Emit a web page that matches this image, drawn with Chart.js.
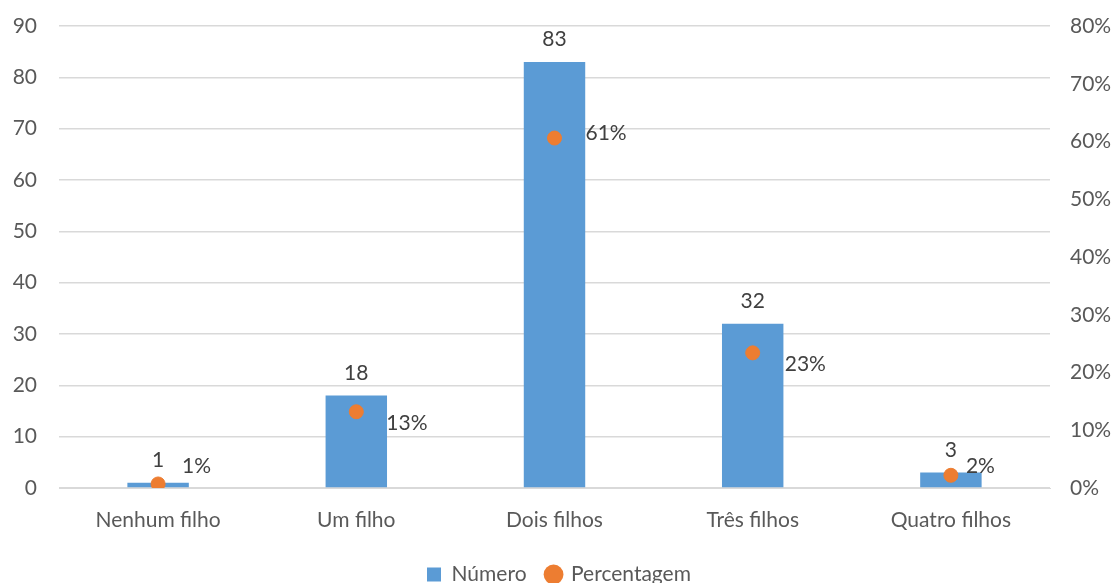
<!DOCTYPE html>
<html>
<head>
<meta charset="utf-8">
<script src="https://cdn.jsdelivr.net/npm/chart.js@4/dist/chart.umd.min.js"></script>
<style>
  html, body { margin: 0; padding: 0; background: #ffffff; }
  #wrap { width: 1118px; height: 583px; position: relative; }
</style>
</head>
<body>
<div id="wrap"><canvas id="chart"></canvas></div>
<script>
// Data
const categories = ['Nenhum filho', 'Um filho', 'Dois filhos', 'Três filhos', 'Quatro filhos'];
const numero = [1, 18, 83, 32, 3];
const percentagem = [0.7, 13.2, 60.6, 23.4, 2.2];
const percentLabels = ['1%', '13%', '61%', '23%', '2%'];

const colors = {
    bar: '#5B9BD5',
    dot: '#ED7D31',
    grid: '#D9D9D9',
    tick: '#595959',
    label: '#404040'
};

const fontFamily = 'Lato, "Open Sans", sans-serif';
const fontSize = 21;

// label nudges for the percentage labels (Excel moved a few to avoid overlap)
const pctNudge = [[24, -18], [30, 11], [31, -5], [32, 11], [15, -9]];

const dataLabels = {
    id: 'dataLabels',
    afterDatasetsDraw(chart) {
        const ctx = chart.ctx;
        ctx.save();
        ctx.font = fontSize + 'px ' + fontFamily;
        ctx.fillStyle = colors.label;

        const bars = chart.getDatasetMeta(0).data;
        ctx.textAlign = 'center';
        ctx.textBaseline = 'bottom';
        bars.forEach((bar, i) => {
            ctx.fillText(String(numero[i]), bar.x, bar.y - 12);
        });

        const dots = chart.getDatasetMeta(1).data;
        ctx.textAlign = 'left';
        ctx.textBaseline = 'middle';
        dots.forEach((pt, i) => {
            const n = pctNudge[i];
            ctx.fillText(percentLabels[i], pt.x + n[0], pt.y + n[1]);
        });
        ctx.restore();
    }
};

Chart.defaults.font.family = fontFamily;
Chart.defaults.font.size = fontSize;
Chart.defaults.color = colors.tick;

new Chart(document.getElementById('chart'), {
    type: 'bar',
    data: {
        labels: categories,
        datasets: [{
            label: 'Número',
            data: numero,
            backgroundColor: colors.bar,
            categoryPercentage: 0.31,
            barPercentage: 1,
            yAxisID: 'y',
            order: 2
        }, {
            label: 'Percentagem',
            type: 'line',
            data: percentagem,
            showLine: false,
            pointRadius: 7,
            pointHoverRadius: 7,
            pointBackgroundColor: colors.dot,
            pointBorderColor: colors.dot,
            backgroundColor: colors.dot,
            borderColor: colors.dot,
            yAxisID: 'y1',
            order: 1
        }]
    },
    options: {
        responsive: true,
        maintainAspectRatio: false,
        animation: false,
        layout: {
            padding: { top: 26, left: 0, right: 0, bottom: -12 }
        },
        plugins: {
            legend: {
                position: 'bottom',
                labels: {
                    usePointStyle: true,
                    boxWidth: 14,
                    boxHeight: 14,
                    padding: 20,
                    color: colors.tick,
                    font: { size: fontSize },
                    generateLabels(chart) {
                        return [{
                            text: 'Número', fillStyle: colors.bar, strokeStyle: colors.bar,
                            lineWidth: 0, pointStyle: 'rect', datasetIndex: 0, fontColor: colors.tick
                        }, {
                            text: 'Percentagem', fillStyle: colors.dot, strokeStyle: colors.dot,
                            lineWidth: 0, pointStyle: 'circle', datasetIndex: 1, fontColor: colors.tick
                        }];
                    }
                }
            },
            tooltip: { enabled: false }
        },
        scales: {
            x: {
                grid: { display: false },
                border: { color: colors.grid },
                ticks: { color: colors.tick, padding: 12 },
                afterFit(scale) { scale.height = 56; }
            },
            y: {
                position: 'left',
                min: 0,
                max: 90,
                ticks: { stepSize: 10, color: colors.tick, padding: 22 },
                grid: { color: colors.grid, lineWidth: 1.5, drawTicks: false },
                border: { display: false },
                afterFit(scale) {
                    scale.width = 59;
                    scale.paddingTop = 0;
                    scale.paddingBottom = 0;
                }
            },
            y1: {
                position: 'right',
                min: 0,
                max: 80,
                ticks: {
                    stepSize: 10,
                    color: colors.tick,
                    padding: 20,
                    callback: v => v + '%'
                },
                grid: { display: false, drawTicks: false },
                border: { display: false },
                afterFit(scale) {
                    scale.width = 68;
                    scale.paddingTop = 0;
                    scale.paddingBottom = 0;
                }
            }
        }
    },
    plugins: [dataLabels]
});
</script>
</body>
</html>
